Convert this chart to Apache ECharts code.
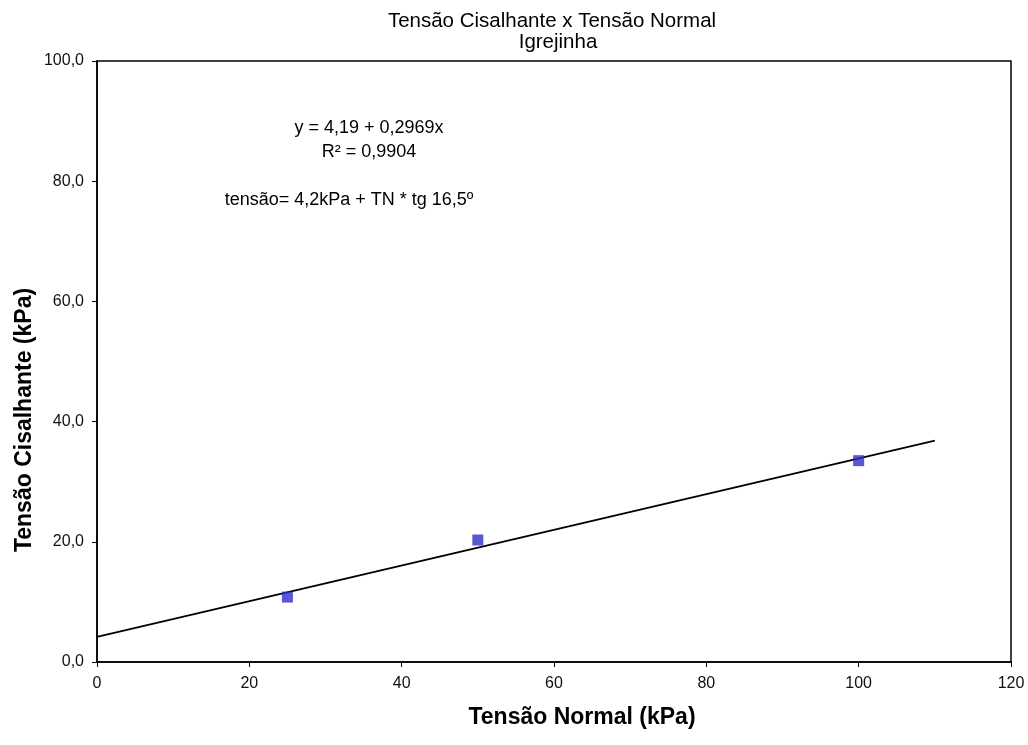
<!DOCTYPE html>
<html><head><meta charset="utf-8">
<script src="https://cdn.jsdelivr.net/npm/echarts@6/dist/echarts.min.js"></script>
<style>html,body{margin:0;padding:0;background:#fff}#c{width:1028px;height:745px}</style>
</head><body><div id="c"></div>
<script>
const normalStress = [25, 50, 100];
const shearStress = [10.8, 20.3, 33.5];
const trendX = [0, 110];
const trendY = [4.19, 36.85];
const xTicks = [0, 20, 40, 60, 80, 100, 120];
const yTicks = [0, 20, 40, 60, 80, 100];

const chart = echarts.init(document.getElementById('c'), null, {renderer: 'canvas'});
const sans = '"Liberation Sans", Arial, sans-serif';
chart.setOption({
  animation: false,
  backgroundColor: '#fff',
  grid: {left: 97, right: 17, top: 61, bottom: 83, show: true, borderColor: '#000', borderWidth: 1.5},
  xAxis: {
    type: 'value', min: xTicks[0], max: xTicks[xTicks.length - 1], interval: 20,
    axisLine: {show: true, lineStyle: {color: '#000', width: 1.5}},
    axisTick: {show: true, inside: false, length: 5, lineStyle: {color: '#000'}},
    splitLine: {show: false},
    axisLabel: {color: '#111', fontFamily: sans, fontSize: 16, margin: 14}
  },
  yAxis: {
    type: 'value', min: yTicks[0], max: yTicks[yTicks.length - 1], interval: 20,
    axisLine: {show: true, lineStyle: {color: '#000', width: 1.5}},
    axisTick: {show: true, inside: false, length: 5, lineStyle: {color: '#000'}},
    splitLine: {show: false},
    axisLabel: {color: '#111', fontFamily: sans, fontSize: 16, margin: 13,
      formatter: v => v.toFixed(1).replace('.', ',')}
  },
  graphic: [
    {type: 'text', x: 552, y: 21, style: {text: 'Tensão Cisalhante x Tensão Normal', font: '20.5px ' + sans, fill: '#000', align: 'center', verticalAlign: 'middle'}},
    {type: 'text', x: 558, y: 42, style: {text: 'Igrejinha', font: '20.5px ' + sans, fill: '#000', align: 'center', verticalAlign: 'middle'}},
    {type: 'text', x: 582, y: 718, style: {text: 'Tensão Normal (kPa)', font: 'bold 23px ' + sans, fill: '#000', align: 'center', verticalAlign: 'middle'}},
    {type: 'text', x: 25, y: 420, rotation: Math.PI / 2, style: {text: 'Tensão Cisalhante (kPa)', font: 'bold 23px ' + sans, fill: '#000', align: 'center', verticalAlign: 'middle'}},
    {type: 'text', x: 369, y: 128, style: {text: 'y = 4,19 + 0,2969x', font: '18px ' + sans, fill: '#000', align: 'center', verticalAlign: 'middle'}},
    {type: 'text', x: 369, y: 152, style: {text: 'R² = 0,9904', font: '18px ' + sans, fill: '#000', align: 'center', verticalAlign: 'middle'}},
    {type: 'text', x: 349, y: 200, style: {text: 'tensão= 4,2kPa + TN * tg 16,5º', font: '18px ' + sans, fill: '#000', align: 'center', verticalAlign: 'middle'}}
  ],
  series: [
    {type: 'line', data: trendX.map((x, i) => [x, trendY[i]]), showSymbol: false, symbol: 'none',
     lineStyle: {color: '#000', width: 1.8}, z: 2},
    {type: 'scatter', data: normalStress.map((x, i) => [x, shearStress[i]]), symbol: 'rect', symbolSize: 11,
     itemStyle: {color: '#2e2ec8'}, z: 3}
  ]
});
</script></body></html>
